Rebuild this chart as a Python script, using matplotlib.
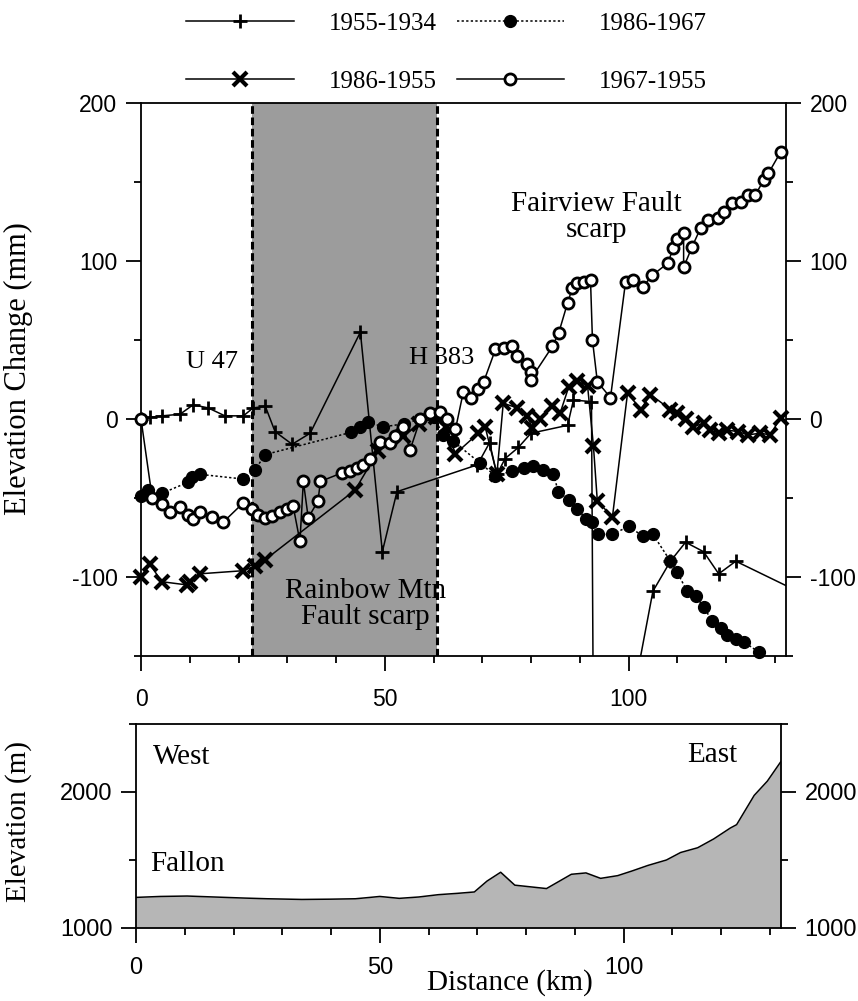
import matplotlib
matplotlib.use('Agg')
import matplotlib.pyplot as plt
from matplotlib import font_manager
from matplotlib.ticker import MultipleLocator

plt.rcParams['font.family'] = ['Liberation Serif', 'DejaVu Serif']
plt.rcParams['axes.unicode_minus'] = False

# narrow sans for the lower panel ticks if it is there
names = set(f.name for f in font_manager.fontManager.ttflist)
narrow = 'Liberation Sans Narrow' if 'Liberation Sans Narrow' in names else 'Liberation Sans'

# ---- data (distance km / elevation change mm) ----
# 1955-1934
km_a = [0, 1.8, 4.3, 8, 10.7, 13.8, 17.2, 21, 23, 25.5, 27.5, 31, 34.7, 45, 49.5, 52.5, 69, 71.5, 73, 74.7,
        77.4, 80, 87.5, 88.7, 92.4, 93, 105, 108.6, 111.7, 115.4, 118.5, 122, 134]
mm_a = [0, 1, 2, 3, 9, 7, 2, 2, 7, 8, -8, -16, -9, 55, -84, -46, -29, -15, -35, -25,
        -18, -9, -4, 12, 11, -305, -109, -90, -78, -84, -98, -90, -108]
# 1986-1967
km_b = [0, 1.5, 4.3, 9.7, 10.4, 12, 21, 23.4, 25.5, 43, 45, 46.6, 49.7, 54, 57.3, 60, 62, 64, 69.6, 72.7,
        76, 78.5, 80.5, 82.5, 84.6, 85.6, 87.7, 89.5, 91.2, 92.6, 93.8, 96.7, 100, 102.9, 105, 108.6, 110, 112,
        113.8, 115.4, 117.2, 118.9, 120.3, 122, 123.6, 126.7]
mm_b = [-49, -45, -47, -40, -37, -35, -38, -32, -22.5, -8.5, -5, -2, -5, -3, 0, 1.5, -10, -14, -28, -36,
        -33, -31, -30, -32, -35, -46, -51, -57, -63, -65, -73, -73, -68, -74, -73, -90, -97, -109,
        -112, -119, -128, -132, -137, -139, -141, -147.5]
# 1986-1955
km_c = [0, 1.8, 4.3, 9.4, 10, 12, 21, 23.4, 25.5, 43.9, 48.7, 53.8, 57, 60.5, 62.5, 64.5, 69.2, 70.6, 73, 74.3,
        77.2, 79.2, 80.3, 81.9, 84.4, 86, 87.7, 89.5, 91.6, 92.8, 93.6, 96.7, 99.8, 102.5, 104.5, 108.6, 110,
        111.7, 113.3, 115.4, 116.8, 118.5, 120.3, 122.4, 124.6, 127, 129, 131.2]
mm_c = [-100, -92, -103, -105, -103, -98, -96, -93, -89, -45, -20, -11, -3, 1, -5, -22, -9, -5, -35, 10,
        7, 1.7, -5.5, 0, 8, 4, 20, 24, 21, -17, -52, -62, 16.5, 6, 15.5, 6, 4,
        0, -5, -2.5, -7, -9, -7, -8, -10, -9, -10, 0.5]
# 1967-1955
km_d = [0, 2.3, 4.3, 6, 8, 9.7, 10.7, 12, 14.6, 16.8, 21, 22.8, 24, 25.5, 26.9, 28.5, 30, 31.2, 32.6, 33.3,
        34.3, 36.3, 36.8, 41.3, 42.9, 44.4, 45.6, 47, 49, 51, 52.2, 53.8, 55.2, 57.3, 59.3, 61.4, 62.8, 64.5,
        66.1, 67.6, 69.2, 70.3, 72.7, 74.4, 76.2, 77.2, 79.2, 79.9, 79.9, 84.4, 85.7, 87.5, 88.5, 89.5, 90.8,
        92.2, 92.6, 93.6, 96.3, 99.4, 101, 102.9, 104.9, 108, 109.2, 110, 111.3, 111.3, 113, 114.8, 116.4,
        118.3, 119.5, 121.3, 123, 124.6, 126, 127.7, 128.7, 131.2]
mm_d = [0, -50, -54, -59, -56, -60.5, -63.5, -59, -62, -65.5, -53, -57, -60.5, -62.5, -61.5, -59, -57, -55, -77.5, -39.5,
        -62.5, -52, -39.5, -34, -33, -31, -29, -25.5, -14.5, -15, -11, -5, -19.5, 0, 4, 4.7, -0.3, -6.6,
        17, 13.5, 19, 23.6, 44, 45, 46, 40, 34.7, 29.5, 25, 46, 54.7, 73.5, 83, 86, 87,
        88, 50, 23.6, 13.5, 87, 88, 83.6, 91, 98.5, 108, 114, 117.5, 96, 108.7, 121, 126,
        127, 131, 136.7, 137.4, 141.8, 141.8, 151, 155.5, 169]
labels = ['1955-1934', '1986-1967', '1986-1955', '1967-1955']

# fault scarp band (km)
scarp_west, scarp_east = 22.7, 60.7

# topographic profile
prof_km = [0, 5, 10.5, 16, 22.3, 27, 34, 40, 45, 48, 50, 54, 58, 62, 66, 69.4, 72, 74.8, 77.7, 84.2,
           89.3, 92.3, 95.3, 98.8, 101.8, 105, 108.8, 111.7, 115.2, 118.5, 121.9, 123.2, 126.8, 129.5, 132.3]
prof_m = [1225, 1232, 1235, 1228, 1220, 1215, 1210, 1212, 1215, 1225, 1232, 1218, 1228, 1245, 1255, 1265, 1345, 1410, 1315, 1290,
          1395, 1405, 1365, 1385, 1420, 1460, 1500, 1555, 1590, 1655, 1735, 1760, 1975, 2080, 2225]

fig = plt.figure(figsize=(8.58, 10.01), dpi=100)
ax = fig.add_axes([141/858, 1 - 656/1001, 645/858, 553/1001])
ax2 = fig.add_axes([136/858, 1 - 928/1001, 645/858, 204/1001])

# upper panel
ax.axvspan(scarp_west, scarp_east, color='#9c9c9c', lw=0, zorder=0)
for xx in (scarp_west, scarp_east):
    ax.axvline(xx, color='k', lw=2.2, ls=(0, (2.5, 1.2)), zorder=1)

la, = ax.plot(km_a, mm_a, color='k', lw=1.1, marker='+', ms=10, mew=2, zorder=3)
lb, = ax.plot(km_b, mm_b, color='k', lw=1.1, ls=(0, (1.5, 1.5)), marker='o', ms=8.5, mfc='k', mec='k',
              zorder=4, clip_on=False)
lc, = ax.plot(km_c, mm_c, color='k', lw=1.1, marker='x', ms=9.5, mew=3, zorder=5, clip_on=False)
ld, = ax.plot(km_d, mm_d, color='k', lw=1.1, marker='o', ms=8, mfc='white', mec='k', mew=2,
              zorder=6, clip_on=False)

ax.set_xlim(0, 132.3)
ax.set_ylim(-150, 200)
ax.xaxis.set_major_locator(MultipleLocator(50))
ax.xaxis.set_minor_locator(MultipleLocator(10))
ax.yaxis.set_major_locator(MultipleLocator(100))
ax.yaxis.set_minor_locator(MultipleLocator(50))
ax.tick_params(which='both', direction='out', right=True, labelright=True, top=False, width=1.3,
               labelsize=16.5, labelfontfamily='Liberation Sans')
ax.tick_params(which='major', length=11)
ax.tick_params(which='minor', length=5)
ax.tick_params(axis='x', pad=12)
ax.tick_params(axis='y', pad=6)
for s in ax.spines.values():
    s.set_linewidth(1.3)
ax.set_ylabel('Elevation Change (mm)', fontsize=22)
ax.yaxis.set_label_coords(-0.167, 0.52)

ax.text(14.6, 36, 'U 47', fontsize=19, ha='center', va='center')
ax.text(61.6, 38.5, 'H 383', fontsize=19, ha='center', va='center')
ax.text(93.4, 128, 'Fairview Fault\nscarp', fontsize=21, ha='center', va='center',
        multialignment='center', linespacing=1.0)
ax.text(46, -117, 'Rainbow Mtn\nFault scarp', fontsize=21, ha='center', va='center',
        multialignment='center', linespacing=1.0)

fig.legend([la, lc, lb, ld], [labels[0], labels[2], labels[1], labels[3]], ncol=2,
           loc='upper left', bbox_to_anchor=(186/858, 1 - 12/1001), frameon=False, fontsize=18,
           handlelength=4.3, handletextpad=1.4, columnspacing=0.8, labelspacing=1.42,
           borderpad=0, borderaxespad=0)

# lower panel
ax2.fill_between(prof_km, prof_m, 1000, color='#b6b6b6', lw=0)
ax2.plot(prof_km, prof_m, color='k', lw=1.1)
ax2.set_xlim(0, 132.3)
ax2.set_ylim(1000, 2500)
ax2.xaxis.set_major_locator(MultipleLocator(50))
ax2.xaxis.set_minor_locator(MultipleLocator(10))
ax2.yaxis.set_major_locator(MultipleLocator(1000))
ax2.yaxis.set_minor_locator(MultipleLocator(500))
ax2.tick_params(which='both', direction='out', right=True, labelright=True, top=False, width=1.3,
                labelsize=17, labelfontfamily=narrow)
ax2.tick_params(which='major', length=11)
ax2.tick_params(which='minor', length=5)
ax2.tick_params(axis='x', pad=10)
ax2.tick_params(axis='y', pad=6)
for s in ax2.spines.values():
    s.set_linewidth(1.3)
ax2.set_ylabel('Elevation (m)', fontsize=21)
ax2.yaxis.set_label_coords(-0.161, 0.52)
ax2.set_xlabel('Distance (km)', fontsize=21)
ax2.xaxis.set_label_coords(0.58, -0.2)

ax2.text(9.4, 2257, 'West', fontsize=21, ha='center', va='center')
ax2.text(118.3, 2270, 'East', fontsize=21, ha='center', va='center')
ax2.text(10.6, 1470, 'Fallon', fontsize=21, ha='center', va='center')

fig.savefig('out.png', dpi=100)
